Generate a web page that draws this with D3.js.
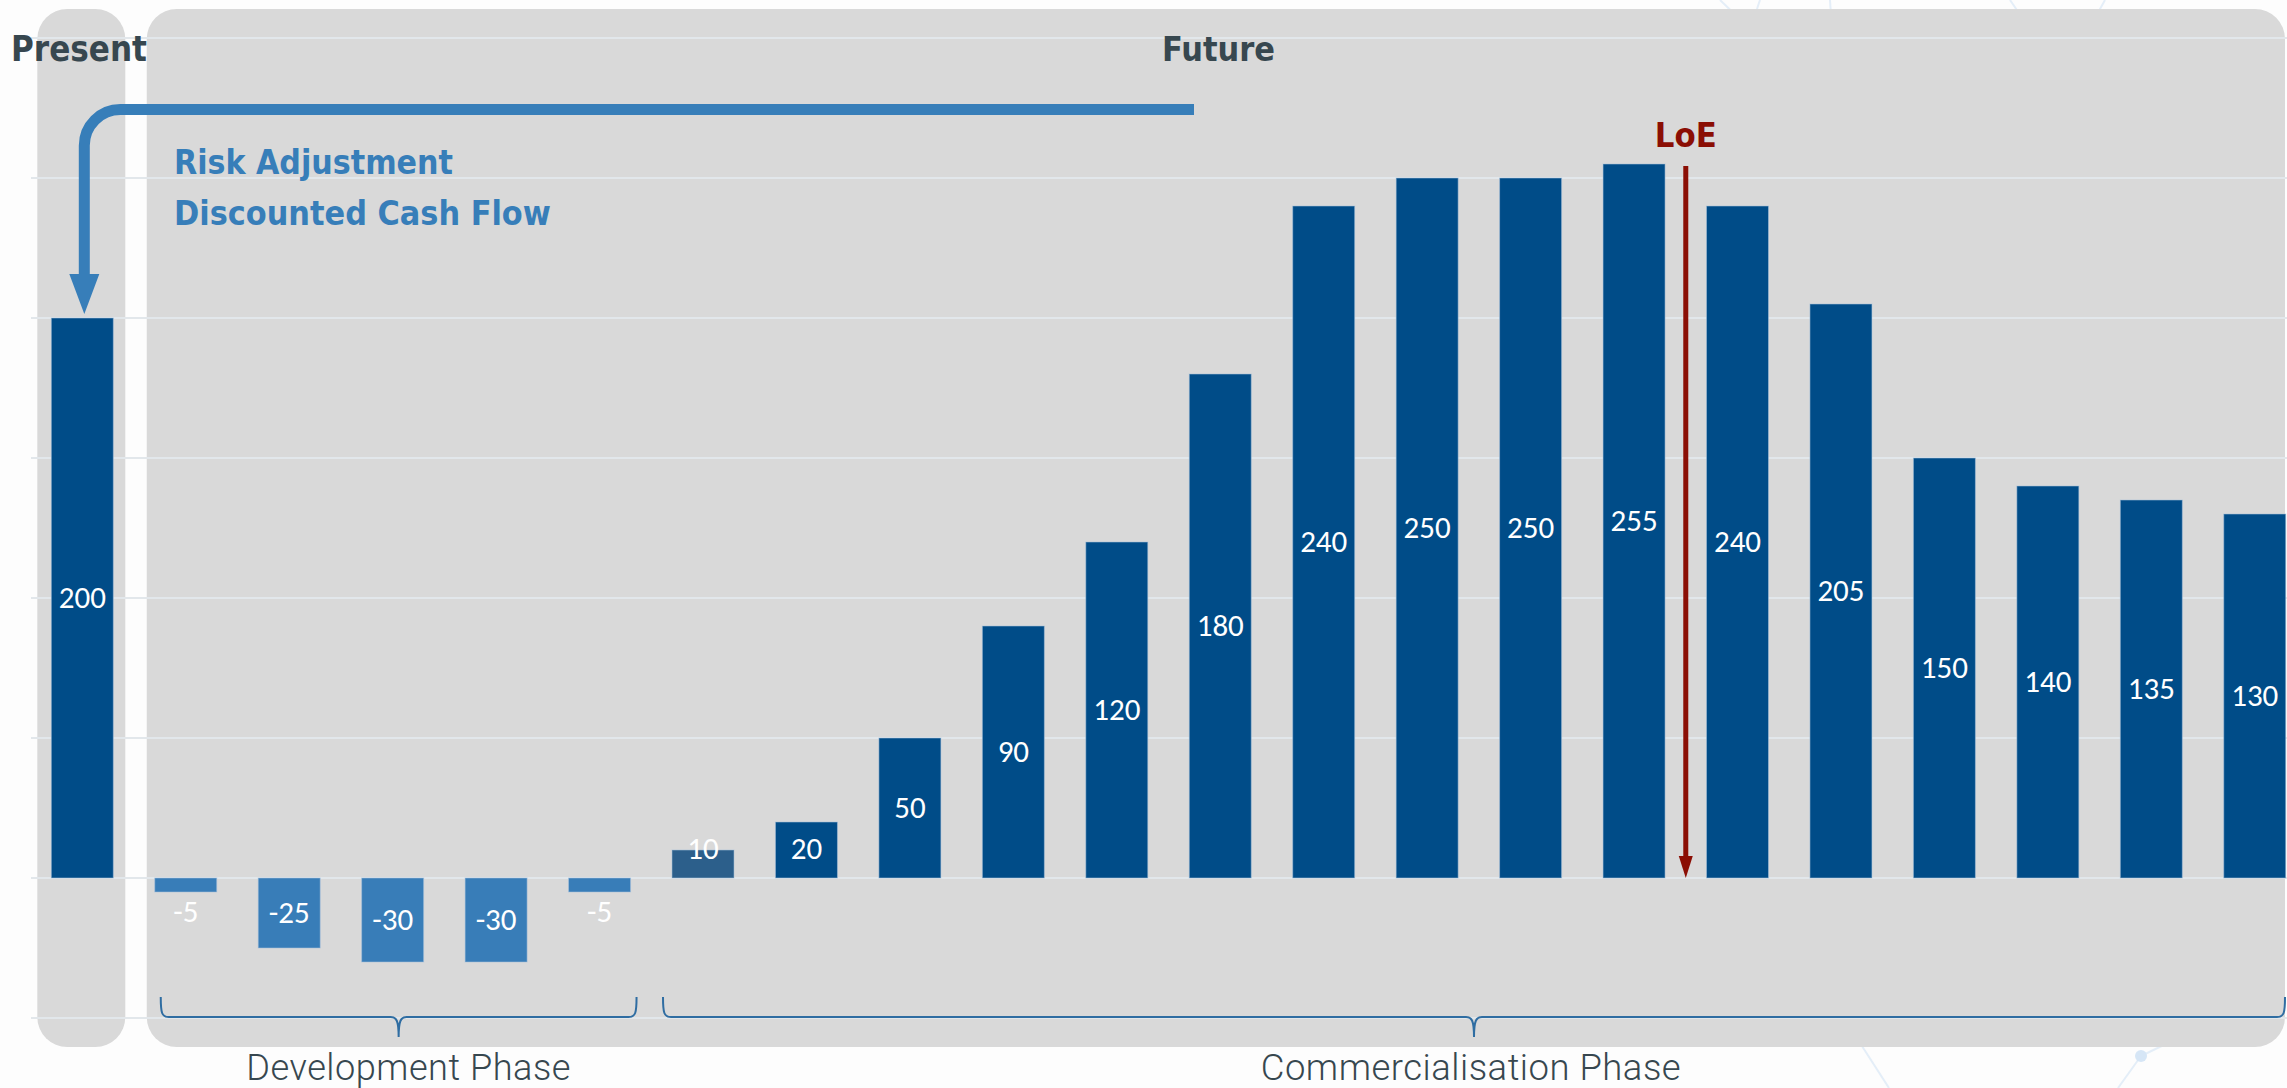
<!DOCTYPE html>
<html>
<head>
<meta charset="utf-8">
<script src="https://cdn.jsdelivr.net/npm/d3@7"></script>
<style>
  html, body { margin: 0; padding: 0; background: #fdfdfd; }
  svg { display: block; }
</style>
</head>
<body>
<svg id="chart" width="2287" height="1088"></svg>
<script>
// ---- data ----
const periods = ["Present", "Y1", "Y2", "Y3", "Y4", "Y5", "Y6", "Y7", "Y8", "Y9", "Y10",
                 "Y11", "Y12", "Y13", "Y14", "Y15", "Y16", "Y17", "Y18", "Y19", "Y20", "Y21"];
const cashFlows = [200, -5, -25, -30, -30, -5, 10, 20, 50, 90, 120, 180, 240, 250, 250, 255,
                   240, 205, 150, 140, 135, 130];
const gridValues = [-50, 0, 50, 100, 150, 200, 250, 300];
const phaseNames = ["Development Phase", "Commercialisation Phase"];
const phaseStart = ["Y1", "Y6"];
const phaseEnd = ["Y5", "Y21"];
const loeAfter = "Y15";          // loss of exclusivity falls after this year
const headerLabels = ["Present", "Future"];
const noteLines = ["Risk Adjustment", "Discounted Cash Flow"];

// ---- setup ----
const W = 2287, H = 1088;
const svg = d3.select("#chart");
const titleFont = "'DejaVu Sans Condensed', 'DejaVu Sans', sans-serif";
const phaseFont = "Roboto, 'Open Sans', sans-serif";
const valueFont = "Calibri, Carlito, 'Open Sans', sans-serif";
const C = {
  panel: "#d9d9d9", grid: "#e2e7eb", dark: "#004c88", light: "#387db8", first: "#2c5f8b",
  text: "#37474f", blue: "#377eb9", red: "#8b0e04", brace: "#2f6da2"
};

const pad = 0.4007;
const step = 103.45;
const x0 = 51.3 - step * pad / 2;
const x = d3.scaleBand().domain(periods)
  .range([x0, x0 + step * periods.length])
  .paddingInner(pad).paddingOuter(pad / 2);
const y = d3.scaleLinear().domain([-50, 300]).range([1018, 38]);
const bw = x.bandwidth();
const gap = x.step() - bw;

// faint background network
const deco = svg.append("g").attr("stroke", "#e4eef8").attr("stroke-width", 2).attr("fill", "none");
[[1860, 1043, 1889, 1088], [2141, 1056, 2232, 1012], [2141, 1056, 2118, 1088],
 [1720, 0, 1745, 24], [1752, 24, 1760, 0], [1830, 0, 1832, 30], [2010, 0, 2025, 22], [2105, 0, 2095, 18]]
  .forEach(d => deco.append("line").attr("x1", d[0]).attr("y1", d[1]).attr("x2", d[2]).attr("y2", d[3]));
svg.append("circle").attr("cx", 2141).attr("cy", 1056).attr("r", 6).attr("fill", "#d6e6f6");

// panels behind the present and future periods
const panelTop = 9, panelBottom = 1047;
svg.append("rect")
  .attr("x", x("Present") - 14).attr("y", panelTop)
  .attr("width", bw + 26).attr("height", panelBottom - panelTop)
  .attr("rx", 30).attr("fill", C.panel);
svg.append("rect")
  .attr("x", x("Y1") - 8).attr("y", panelTop)
  .attr("width", W - 2 - (x("Y1") - 8)).attr("height", panelBottom - panelTop)
  .attr("rx", 30).attr("fill", C.panel);

// gridlines
svg.append("g").selectAll("line").data(gridValues).join("line")
  .attr("x1", 31).attr("x2", W)
  .attr("y1", d => y(d)).attr("y2", d => y(d))
  .attr("stroke", C.grid).attr("stroke-width", 2);

// bars
const rows = periods.map((p, i) => ({ p, v: cashFlows[i], i }));
const tone = d => d.v < 0 ? C.light : (d.p === phaseStart[1] ? C.first : C.dark);
svg.append("g").selectAll("rect").data(rows).join("rect")
  .attr("x", d => x(d.p))
  .attr("y", d => y(Math.max(0, d.v)))
  .attr("width", bw)
  .attr("height", d => Math.abs(y(d.v) - y(0)))
  .attr("fill", tone)
  .attr("stroke", "rgba(170,195,220,0.55)").attr("stroke-width", 1);

// value labels, centred in the bar but kept clear of the zero line
const vSize = 31;
svg.append("g").selectAll("text").data(rows).join("text")
  .attr("x", d => x(d.p) + bw / 2)
  .attr("y", d => {
    const mid = (y(d.v) + y(0)) / 2;
    const off = d.v >= 0 ? Math.min(mid, y(0) - 29) : Math.max(mid, y(0) + 34);
    return off + vSize * 0.32;
  })
  .attr("text-anchor", "middle")
  .attr("font-family", valueFont).attr("font-size", vSize)
  .attr("fill", "#ffffff")
  .text(d => d.v);

// fits a text element to a given width by scaling its font size
function fit(sel, width) {
  const n = sel.node();
  const fs = parseFloat(sel.attr("font-size"));
  const w = n.getComputedTextLength();
  if (w > 0) sel.attr("font-size", fs * width / w);
  return sel;
}

// headers
fit(svg.append("text").attr("x", 11).attr("y", 61)
  .attr("font-family", titleFont).attr("font-weight", "bold").attr("font-size", 36)
  .attr("fill", C.text).text(headerLabels[0]), 136);
fit(svg.append("text").attr("x", 1162).attr("y", 61)
  .attr("font-family", titleFont).attr("font-weight", "bold").attr("font-size", 36)
  .attr("fill", C.text).text(headerLabels[1]), 113);

// discounting arrow from the future back to the present value
const ax = x("Present") + bw / 2 + 2;
const ay = 109.5, r = 36, tipY = y(cashFlows[0]) - 4, headH = 40;
svg.append("path")
  .attr("d", `M1194,${ay} H${ax + r} A${r},${r} 0 0 0 ${ax},${ay + r} V${tipY - headH + 2}`)
  .attr("fill", "none").attr("stroke", C.blue).attr("stroke-width", 11);
svg.append("path")
  .attr("d", `M${ax - 15},${tipY - headH} L${ax + 15},${tipY - headH} L${ax},${tipY} Z`)
  .attr("fill", C.blue);

noteLines.forEach((t, i) => {
  fit(svg.append("text").attr("x", 174).attr("y", 174 + i * 51)
    .attr("font-family", titleFont).attr("font-weight", "bold").attr("font-size", 35)
    .attr("fill", C.blue).text(t), i === 0 ? 279 : 377);
});

// loss of exclusivity marker
const lx = x(loeAfter) + bw + gap / 2;
svg.append("line").attr("x1", lx).attr("x2", lx).attr("y1", 166).attr("y2", y(0) - 18)
  .attr("stroke", C.red).attr("stroke-width", 5);
svg.append("path")
  .attr("d", `M${lx - 7},${y(0) - 22} L${lx + 7},${y(0) - 22} L${lx},${y(0)} Z`)
  .attr("fill", C.red);
fit(svg.append("text").attr("x", lx).attr("y", 147).attr("text-anchor", "middle")
  .attr("font-family", titleFont).attr("font-weight", "bold").attr("font-size", 36)
  .attr("fill", C.red).text("LoE"), 62);

// phase braces
function bracePath(a, b, yl) {
  const m = (a + b) / 2, up = 20, dn = 20;
  return `M${a},${yl - up} C${a},${yl - 4} ${a + 1},${yl} ${a + 8},${yl}` +
         ` H${m - 8} C${m - 2},${yl} ${m},${yl + 4} ${m},${yl + dn}` +
         ` C${m},${yl + 4} ${m + 2},${yl} ${m + 8},${yl}` +
         ` H${b - 8} C${b - 1},${yl} ${b},${yl - 4} ${b},${yl - up}`;
}
const braceY = y(-50) - 1;
const braceEnds = [
  [x(phaseStart[0]) + 6, x(phaseEnd[0]) + bw + 6],
  [x(phaseStart[1]) - 9, Math.min(x(phaseEnd[1]) + bw, W - 2)]
];
phaseNames.forEach((name, i) => {
  const [a, b] = braceEnds[i];
  svg.append("path").attr("d", bracePath(a, b, braceY))
    .attr("fill", "none").attr("stroke", C.brace).attr("stroke-width", 2);
  fit(svg.append("text").attr("x", (a + b) / 2 + (i === 0 ? 10 : -3)).attr("y", 1080)
    .attr("text-anchor", "middle")
    .attr("font-family", phaseFont).attr("font-weight", 300).attr("font-size", 35)
    .attr("letter-spacing", 0.5)
    .attr("fill", C.text).text(name), i === 0 ? 325 : 421);
});
</script>
</body>
</html>
